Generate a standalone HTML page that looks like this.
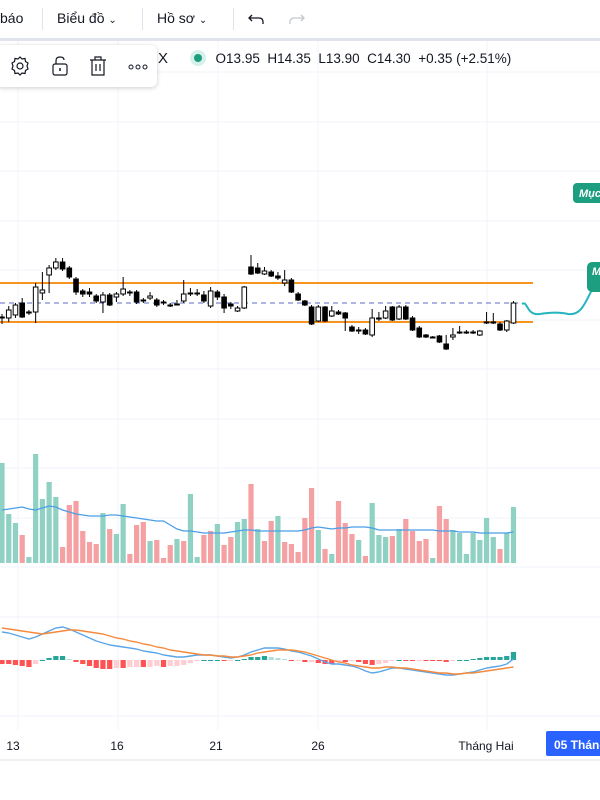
<!DOCTYPE html>
<html><head><meta charset="utf-8">
<style>
body{margin:0;width:600px;height:800px;overflow:hidden;background:#fff;font-family:"Liberation Sans",sans-serif;}
#wrap{position:relative;width:600px;height:800px;}
svg{position:absolute;left:0;top:0;}
</style></head>
<body>
<div id="wrap">
<svg id="chart" width="600" height="800" viewBox="0 0 600 800">
  <g id="grid"></g>
  <g id="levels">
    <line x1="0" y1="283" x2="533" y2="283" stroke="#f7941d" stroke-width="2"/>
    <line x1="0" y1="322" x2="533" y2="322" stroke="#f7941d" stroke-width="2"/>
    <line x1="0" y1="303" x2="522" y2="303" stroke="#5c6bc0" stroke-width="1" stroke-dasharray="5,4"/>
  </g>
  <g id="volume"></g>
  <g id="candles"></g>
  <g id="macd"></g>
  <path d="M522,304 C528,300 526,316 540,314 C552,312 560,312 568,314 C582,316 586,300 592,290" fill="none" stroke="#26b5c0" stroke-width="2"/>
  <rect x="573" y="183" width="40" height="20" rx="4" fill="#1e9e80"/>
  <text x="579" y="197" font-size="11" font-weight="bold" font-style="italic" fill="#fff">Mục</text>
  <rect x="587" y="262" width="30" height="30" rx="5" fill="#1e9e80"/>
  <text x="592" y="275" font-size="11" font-weight="bold" font-style="italic" fill="#fff">M</text>
  <!-- time axis -->
  <g font-size="12" fill="#131722">
    <text x="13" y="750" text-anchor="middle">13</text>
    <text x="117" y="750" text-anchor="middle">16</text>
    <text x="216" y="750" text-anchor="middle">21</text>
    <text x="318" y="750" text-anchor="middle">26</text>
    <text x="486" y="750" text-anchor="middle">Tháng Hai</text>
  </g>
  <rect x="546" y="731" width="60" height="25" rx="2" fill="#2962ff"/>
  <text x="554" y="749" font-size="12" font-weight="bold" fill="#fff">05 Tháng</text>
  <line x1="0" y1="760" x2="600" y2="760" stroke="#e0e3eb" stroke-width="1"/>
</svg>

<!-- top toolbar -->
<div style="position:absolute;left:0;top:0;width:600px;height:38px;background:#fff;font-size:14px;color:#131722;">
  <span style="position:absolute;left:0;top:10px;">báo</span>
  <div style="position:absolute;left:42px;top:8px;width:1px;height:22px;background:#e0e3eb"></div>
  <span style="position:absolute;left:57px;top:10px;">Biểu đồ <span style="font-size:10px">&#8964;</span></span>
  <div style="position:absolute;left:142px;top:8px;width:1px;height:22px;background:#e0e3eb"></div>
  <span style="position:absolute;left:157px;top:10px;">Hồ sơ <span style="font-size:10px">&#8964;</span></span>
  <div style="position:absolute;left:233px;top:8px;width:1px;height:22px;background:#e0e3eb"></div>
  <svg width="20" height="20" style="left:247px;top:9px"><path d="M5,6 L2,9 L5,12 M2,9 H12 Q16,9 16,13 V15" fill="none" stroke="#131722" stroke-width="1.3"/></svg>
  <svg width="20" height="20" style="left:286px;top:9px"><path d="M15,6 L18,9 L15,12 M18,9 H8 Q4,9 4,13 V15" fill="none" stroke="#c4c7ce" stroke-width="1.3"/></svg>
</div>
<div style="position:absolute;left:0;top:38px;width:600px;height:3px;background:#e0e3eb"></div>

<!-- floating toolbar -->
<div style="position:absolute;left:-4px;top:45px;width:161px;height:42px;background:#fff;border-radius:6px;box-shadow:0 1px 5px rgba(0,0,0,0.2);">
  <svg width="22" height="22" style="left:13px;top:10px"><circle cx="11" cy="11" r="3" fill="none" stroke="#131722" stroke-width="1.2"/><path d="M11,2 L13,4 L16,3.5 L16.5,6.5 L19,8 L18,11 L19,14 L16.5,15.5 L16,18.5 L13,18 L11,20 L9,18 L6,18.5 L5.5,15.5 L3,14 L4,11 L3,8 L5.5,6.5 L6,3.5 L9,4 Z" fill="none" stroke="#131722" stroke-width="1.2"/></svg>
  <svg width="22" height="22" style="left:53px;top:10px"><rect x="4" y="9" width="14" height="11" rx="2" fill="none" stroke="#131722" stroke-width="1.2"/><path d="M7,9 V6 Q7,2 11,2 Q15,2 15,5" fill="none" stroke="#131722" stroke-width="1.2"/><line x1="11" y1="13" x2="11" y2="16" stroke="#131722" stroke-width="1.5"/></svg>
  <svg width="22" height="22" style="left:91px;top:10px"><path d="M3,5 H19 M8,5 V2 H14 V5 M5,5 V20 H17 V5 M9,9 V16 M13,9 V16" fill="none" stroke="#131722" stroke-width="1.2"/></svg>
  <svg width="24" height="22" style="left:130px;top:10px"><circle cx="5" cy="12" r="2" fill="none" stroke="#131722"/><circle cx="12" cy="12" r="2" fill="none" stroke="#131722"/><circle cx="19" cy="12" r="2" fill="none" stroke="#131722"/></svg>
</div>

<!-- legend -->
<div style="position:absolute;left:158px;top:50px;font-size:13.5px;color:#131722;white-space:nowrap;">
  <span style="font-size:15px">X</span>
  <span style="display:inline-block;width:8px;height:8px;border-radius:50%;background:#1e9e80;box-shadow:0 0 0 4px #d6f0ea;margin:0 10px 1px 22px;"></span>
  <span>O13.95&nbsp; H14.35&nbsp; L13.90&nbsp; C14.30&nbsp; +0.35 (+2.51%)</span>
</div>
</div>

<script>
const open  = [14.15,14.15,14.18,14.30,14.20,14.21,14.40,14.58,14.65,14.71,14.65,14.54,14.42,14.41,14.37,14.31,14.38,14.36,14.39,14.41,14.41,14.33,14.35,14.33,14.31,14.28,14.28,14.32,14.40,14.40,14.38,14.27,14.41,14.36,14.29,14.22,14.25,14.66,14.65,14.59,14.61,14.57,14.50,14.53,14.39,14.32,14.26,14.12,14.26,14.17,14.21,14.20,14.06,14.03,14.03,13.98,14.14,14.15,14.26,14.14,14.26,14.15,14.05,13.98,13.96,13.97,13.89,13.96,14.01,14.01,14.00,13.98,14.10,14.11,14.09,14.03,14.10];
const close = [14.16,14.23,14.28,14.16,14.21,14.46,14.43,14.65,14.71,14.64,14.56,14.41,14.39,14.39,14.32,14.38,14.28,14.39,14.44,14.40,14.31,14.32,14.37,14.28,14.30,14.27,14.29,14.39,14.40,14.39,14.32,14.42,14.36,14.25,14.27,14.25,14.46,14.59,14.60,14.62,14.57,14.55,14.53,14.41,14.33,14.28,14.09,14.26,14.12,14.22,14.19,14.15,14.02,14.02,13.99,14.15,14.15,14.22,14.13,14.26,14.14,14.03,13.96,13.96,13.96,13.91,13.84,13.98,14.00,14.00,14.01,14.02,14.11,14.10,14.03,14.12,14.30];
const high  = [14.19,14.27,14.30,14.35,14.23,14.50,14.61,14.68,14.75,14.75,14.67,14.56,14.44,14.45,14.39,14.41,14.40,14.41,14.56,14.43,14.43,14.35,14.41,14.35,14.33,14.30,14.33,14.53,14.45,14.44,14.42,14.46,14.43,14.39,14.31,14.27,14.47,14.78,14.70,14.66,14.63,14.61,14.63,14.55,14.41,14.33,14.28,14.28,14.27,14.27,14.23,14.21,14.08,14.06,14.05,14.24,14.21,14.27,14.27,14.28,14.28,14.17,14.07,13.99,13.97,13.98,13.98,14.05,14.07,14.03,14.03,14.03,14.21,14.20,14.11,14.13,14.32];
const low   = [14.09,14.11,14.15,14.15,14.18,14.10,14.33,14.40,14.63,14.62,14.54,14.38,14.36,14.36,14.30,14.20,14.27,14.31,14.37,14.37,14.29,14.30,14.33,14.26,14.28,14.26,14.28,14.30,14.37,14.37,14.30,14.25,14.33,14.20,14.24,14.21,14.24,14.58,14.59,14.58,14.56,14.53,14.47,14.40,14.32,14.27,14.08,14.11,14.11,14.16,14.18,14.02,14.01,13.99,13.98,13.96,14.12,14.14,14.12,14.13,14.13,14.02,13.95,13.95,13.95,13.90,13.83,13.93,13.99,13.99,13.99,13.97,14.09,14.09,14.02,14.01,14.09];
const volume = [1000,490,400,280,60,1090,640,810,660,160,580,620,320,210,190,500,340,290,590,90,380,410,220,230,50,180,240,220,690,60,280,320,390,180,260,410,440,790,340,220,420,470,210,190,110,450,750,330,140,90,620,400,290,230,70,600,280,260,270,340,440,320,220,240,50,570,440,330,300,90,300,230,450,260,140,300,560];
const volumeUp = [1,1,1,0,1,1,1,1,1,0,0,0,0,0,0,1,0,1,1,0,0,0,1,0,0,0,1,0,1,1,0,0,1,0,0,1,1,0,1,0,0,1,0,0,0,0,0,1,0,1,0,0,0,1,0,1,1,1,0,1,0,0,0,0,1,0,0,1,1,1,1,1,1,1,0,1,1];
const volumeMA = [530,540,550,560,540,530,550,570,560,530,510,490,480,470,470,470,480,480,470,460,450,440,430,420,420,380,340,320,320,310,300,300,300,300,310,320,330,330,320,320,320,320,320,320,320,330,350,360,350,340,350,350,360,360,360,350,330,330,330,330,330,330,330,330,330,320,320,320,310,310,310,300,300,300,300,300,310];
const macdLine = [0.28,0.27,0.25,0.23,0.21,0.23,0.26,0.29,0.32,0.33,0.31,0.28,0.25,0.22,0.19,0.17,0.15,0.14,0.13,0.12,0.11,0.09,0.08,0.07,0.05,0.04,0.03,0.03,0.04,0.05,0.05,0.05,0.04,0.03,0.02,0.03,0.05,0.08,0.10,0.12,0.12,0.12,0.11,0.09,0.08,0.06,0.04,0.01,-0.02,-0.04,-0.04,-0.05,-0.06,-0.08,-0.11,-0.13,-0.12,-0.10,-0.08,-0.08,-0.09,-0.10,-0.11,-0.12,-0.13,-0.14,-0.15,-0.15,-0.14,-0.13,-0.12,-0.10,-0.08,-0.07,-0.06,-0.04,0.01];
const signalLine = [0.32,0.31,0.30,0.29,0.28,0.27,0.26,0.27,0.28,0.29,0.30,0.30,0.29,0.28,0.27,0.26,0.24,0.22,0.21,0.19,0.18,0.16,0.15,0.13,0.12,0.10,0.09,0.08,0.07,0.06,0.05,0.05,0.04,0.04,0.03,0.03,0.04,0.05,0.07,0.08,0.09,0.10,0.10,0.10,0.09,0.08,0.06,0.04,0.02,0.00,-0.02,-0.03,-0.05,-0.06,-0.07,-0.08,-0.08,-0.07,-0.07,-0.08,-0.08,-0.09,-0.10,-0.11,-0.12,-0.13,-0.13,-0.14,-0.14,-0.13,-0.13,-0.12,-0.11,-0.10,-0.09,-0.08,-0.07];

const NS = 'http://www.w3.org/2000/svg';
const xAt = i => 2 + i * 6.73;
const yPrice = p => (17.33 - p) * 100;
const yVol = v => 563 - v / 10;
const yMacd = m => 660 - m * 100;
function mk(tag, attrs, parent) {
  const el = document.createElementNS(NS, tag);
  for (const k in attrs) el.setAttribute(k, attrs[k]);
  parent.appendChild(el);
  return el;
}

// grid
const grid = document.getElementById('grid');
[23,72,122,171,221,270,320,369,419,468,518,567,617,716].forEach(y => {
  const l = mk('line', {x1:0, y1:y, x2:600, y2:y, stroke:'#f0f3fa', 'stroke-width':1}, grid);
  
  
});
[18,118,218,318,487].forEach(x => {
  const l = mk('line', {x1:x, y1:41, x2:x, y2:730, stroke:'#f0f3fa', 'stroke-width':1}, grid);
  
  
});

// volume
const vg = document.getElementById('volume');
volume.forEach((v, i) => {
  const r = mk('rect', {x: xAt(i) - 2.6, y: yVol(v), width: 5.2, height: 563 - yVol(v), fill: volumeUp[i] ? '#8fd1c3' : '#f5a0a2'}, vg);
  
  
});
const vma = mk('polyline', {points: volumeMA.map((v, i) => xAt(i) + ',' + yVol(v)).join(' '), fill: 'none', stroke: '#4a9fe8', 'stroke-width': 1.3}, vg);



// candles
const cg = document.getElementById('candles');
open.forEach((o, i) => {
  const c = close[i], x = xAt(i);
  const up = c >= o;
  const w = mk('line', {x1: x, y1: yPrice(high[i]), x2: x, y2: yPrice(low[i]), stroke: '#000', 'stroke-width': 1}, cg);
  
  
  const top = yPrice(Math.max(o, c)), bot = yPrice(Math.min(o, c));
  const b = mk('rect', {x: x - 2.3, y: top, width: 4.6, height: Math.max(bot - top, 1), fill: up ? '#fff' : '#000', stroke: '#000', 'stroke-width': 1}, cg);
  
  
});

// macd
const mg = document.getElementById('macd');
macdLine.forEach((m, i) => {
  const h = m - signalLine[i];
  const prev = i > 0 ? macdLine[i-1] - signalLine[i-1] : h;
  let col;
  if (h >= 0) col = h >= prev ? '#26a69a' : '#b2dfdb';
  else col = h <= prev ? '#ff5252' : '#ffcdd2';
  const y0 = yMacd(0), y1 = yMacd(h);
  const r = mk('rect', {x: xAt(i) - 2.6, y: Math.min(y0, y1), width: 5.2, height: Math.max(Math.abs(y1 - y0), 1), fill: col}, mg);
  
  
});
const ml = mk('polyline', {points: macdLine.map((m, i) => xAt(i) + ',' + yMacd(m)).join(' '), fill: 'none', stroke: '#5aa5e8', 'stroke-width': 1.4}, mg);


const sl = mk('polyline', {points: signalLine.map((m, i) => xAt(i) + ',' + yMacd(m)).join(' '), fill: 'none', stroke: '#f58a3c', 'stroke-width': 1.4}, mg);


</script>
</body></html>
